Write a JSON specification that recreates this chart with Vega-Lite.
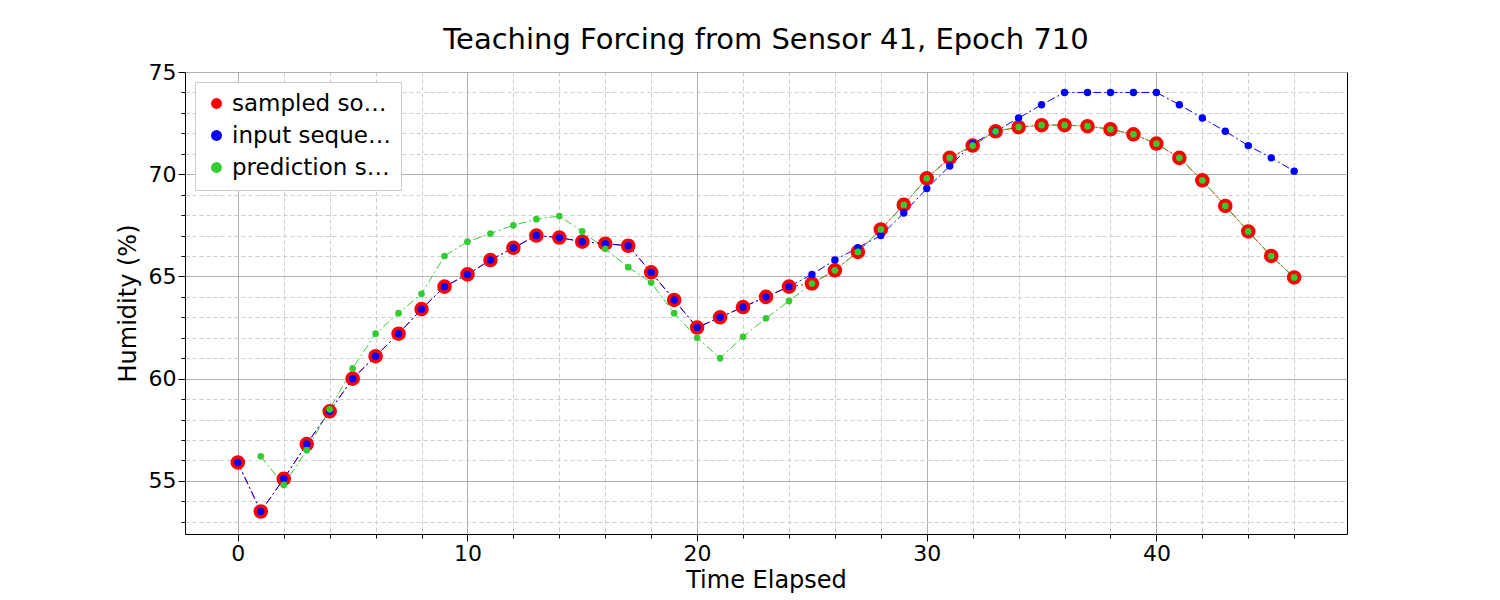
{
"$schema":"https://vega.github.io/schema/vega-lite/v6.json",
"width":1162,"height":462,
"padding":{"left":116,"top":26,"right":10,"bottom":5},
"title":{"text":"Teaching Forcing from Sensor 41, Epoch 710","fontSize":29,"font":"DejaVu Sans","fontWeight":"normal","offset":6},
"config":{"view":{"stroke":"black","strokeWidth":1},"font":"DejaVu Sans",
"axis":{"labelFont":"DejaVu Sans","titleFont":"DejaVu Sans","labelFontSize":22,"titleFontSize":24,"titleFontWeight":"normal","labelColor":"black","titleColor":"black","domain":false,"tickColor":"black"}},
"datasets":{"d":[
{"t":0,"s":"sampled source","v":55.9},{"t":1,"s":"sampled source","v":53.5},{"t":2,"s":"sampled source","v":55.1},{"t":3,"s":"sampled source","v":56.8},{"t":4,"s":"sampled source","v":58.4},{"t":5,"s":"sampled source","v":60.0},{"t":6,"s":"sampled source","v":61.1},{"t":7,"s":"sampled source","v":62.2},{"t":8,"s":"sampled source","v":63.4},{"t":9,"s":"sampled source","v":64.5},{"t":10,"s":"sampled source","v":65.1},{"t":11,"s":"sampled source","v":65.8},{"t":12,"s":"sampled source","v":66.4},{"t":13,"s":"sampled source","v":67.0},{"t":14,"s":"sampled source","v":66.9},{"t":15,"s":"sampled source","v":66.7},{"t":16,"s":"sampled source","v":66.6},{"t":17,"s":"sampled source","v":66.5},{"t":18,"s":"sampled source","v":65.2},{"t":19,"s":"sampled source","v":63.85},{"t":20,"s":"sampled source","v":62.5},{"t":21,"s":"sampled source","v":63.0},{"t":22,"s":"sampled source","v":63.5},{"t":23,"s":"sampled source","v":64.0},{"t":24,"s":"sampled source","v":64.5},{"t":25,"s":"sampled source","v":64.65},{"t":26,"s":"sampled source","v":65.3},{"t":27,"s":"sampled source","v":66.2},{"t":28,"s":"sampled source","v":67.3},{"t":29,"s":"sampled source","v":68.5},{"t":30,"s":"sampled source","v":69.8},{"t":31,"s":"sampled source","v":70.8},{"t":32,"s":"sampled source","v":71.4},{"t":33,"s":"sampled source","v":72.1},{"t":34,"s":"sampled source","v":72.3},{"t":35,"s":"sampled source","v":72.4},{"t":36,"s":"sampled source","v":72.4},{"t":37,"s":"sampled source","v":72.35},{"t":38,"s":"sampled source","v":72.2},{"t":39,"s":"sampled source","v":71.95},{"t":40,"s":"sampled source","v":71.5},{"t":41,"s":"sampled source","v":70.8},{"t":42,"s":"sampled source","v":69.7},{"t":43,"s":"sampled source","v":68.45},{"t":44,"s":"sampled source","v":67.2},{"t":45,"s":"sampled source","v":66.0},{"t":46,"s":"sampled source","v":64.95},
{"t":0,"s":"input sequence","v":55.9},{"t":1,"s":"input sequence","v":53.5},{"t":2,"s":"input sequence","v":55.1},{"t":3,"s":"input sequence","v":56.8},{"t":4,"s":"input sequence","v":58.4},{"t":5,"s":"input sequence","v":60.0},{"t":6,"s":"input sequence","v":61.1},{"t":7,"s":"input sequence","v":62.2},{"t":8,"s":"input sequence","v":63.4},{"t":9,"s":"input sequence","v":64.5},{"t":10,"s":"input sequence","v":65.1},{"t":11,"s":"input sequence","v":65.8},{"t":12,"s":"input sequence","v":66.4},{"t":13,"s":"input sequence","v":67.0},{"t":14,"s":"input sequence","v":66.9},{"t":15,"s":"input sequence","v":66.7},{"t":16,"s":"input sequence","v":66.6},{"t":17,"s":"input sequence","v":66.5},{"t":18,"s":"input sequence","v":65.2},{"t":19,"s":"input sequence","v":63.85},{"t":20,"s":"input sequence","v":62.5},{"t":21,"s":"input sequence","v":63.0},{"t":22,"s":"input sequence","v":63.5},{"t":23,"s":"input sequence","v":64.0},{"t":24,"s":"input sequence","v":64.5},{"t":25,"s":"input sequence","v":65.1},{"t":26,"s":"input sequence","v":65.8},{"t":27,"s":"input sequence","v":66.4},{"t":28,"s":"input sequence","v":67.0},{"t":29,"s":"input sequence","v":68.1},{"t":30,"s":"input sequence","v":69.3},{"t":31,"s":"input sequence","v":70.4},{"t":32,"s":"input sequence","v":71.5},{"t":33,"s":"input sequence","v":72.1},{"t":34,"s":"input sequence","v":72.75},{"t":35,"s":"input sequence","v":73.4},{"t":36,"s":"input sequence","v":74.0},{"t":37,"s":"input sequence","v":74.0},{"t":38,"s":"input sequence","v":74.0},{"t":39,"s":"input sequence","v":74.0},{"t":40,"s":"input sequence","v":74.0},{"t":41,"s":"input sequence","v":73.4},{"t":42,"s":"input sequence","v":72.75},{"t":43,"s":"input sequence","v":72.1},{"t":44,"s":"input sequence","v":71.4},{"t":45,"s":"input sequence","v":70.8},{"t":46,"s":"input sequence","v":70.15},
{"t":1,"s":"prediction sequence","v":56.2},{"t":2,"s":"prediction sequence","v":54.8},{"t":3,"s":"prediction sequence","v":56.5},{"t":4,"s":"prediction sequence","v":58.5},{"t":5,"s":"prediction sequence","v":60.5},{"t":6,"s":"prediction sequence","v":62.2},{"t":7,"s":"prediction sequence","v":63.2},{"t":8,"s":"prediction sequence","v":64.15},{"t":9,"s":"prediction sequence","v":66.0},{"t":10,"s":"prediction sequence","v":66.7},{"t":11,"s":"prediction sequence","v":67.1},{"t":12,"s":"prediction sequence","v":67.5},{"t":13,"s":"prediction sequence","v":67.8},{"t":14,"s":"prediction sequence","v":67.95},{"t":15,"s":"prediction sequence","v":67.2},{"t":16,"s":"prediction sequence","v":66.35},{"t":17,"s":"prediction sequence","v":65.45},{"t":18,"s":"prediction sequence","v":64.7},{"t":19,"s":"prediction sequence","v":63.2},{"t":20,"s":"prediction sequence","v":62.0},{"t":21,"s":"prediction sequence","v":61.0},{"t":22,"s":"prediction sequence","v":62.05},{"t":23,"s":"prediction sequence","v":62.95},{"t":24,"s":"prediction sequence","v":63.8},{"t":25,"s":"prediction sequence","v":64.65},{"t":26,"s":"prediction sequence","v":65.3},{"t":27,"s":"prediction sequence","v":66.2},{"t":28,"s":"prediction sequence","v":67.3},{"t":29,"s":"prediction sequence","v":68.5},{"t":30,"s":"prediction sequence","v":69.8},{"t":31,"s":"prediction sequence","v":70.8},{"t":32,"s":"prediction sequence","v":71.4},{"t":33,"s":"prediction sequence","v":72.1},{"t":34,"s":"prediction sequence","v":72.3},{"t":35,"s":"prediction sequence","v":72.4},{"t":36,"s":"prediction sequence","v":72.4},{"t":37,"s":"prediction sequence","v":72.35},{"t":38,"s":"prediction sequence","v":72.2},{"t":39,"s":"prediction sequence","v":71.95},{"t":40,"s":"prediction sequence","v":71.5},{"t":41,"s":"prediction sequence","v":70.8},{"t":42,"s":"prediction sequence","v":69.7},{"t":43,"s":"prediction sequence","v":68.45},{"t":44,"s":"prediction sequence","v":67.2},{"t":45,"s":"prediction sequence","v":66.0},{"t":46,"s":"prediction sequence","v":64.95}
]},
"data":{"name":"d"},
"layer":[
{"mark":{"type":"rule","opacity":0},"encoding":{
 "x":{"field":"t","type":"quantitative","scale":{"domain":[-2.3,48.3],"nice":false,"zero":false},"axis":{"orient":"bottom","values":[0,2,4,6,8,12,14,16,18,22,24,26,28,32,34,36,38,42,44,46],"labels":false,"title":null,"tickSize":4,"gridDash":[4,3],"gridColor":"#cccccc","grid":true}},
 "y":{"field":"v","type":"quantitative","scale":{"domain":[52.4,75],"nice":false,"zero":false},"axis":{"orient":"left","values":[53,54,56,57,58,59,61,62,63,64,66,67,68,69,71,72,73,74],"labels":false,"title":null,"tickSize":4,"gridDash":[4,3],"gridColor":"#cccccc","grid":true}}}},
{"layer":[
{"mark":{"type":"line","strokeDash":[8,3,2,3],"strokeWidth":1},"encoding":{
 "x":{"field":"t","type":"quantitative","axis":{"orient":"bottom","values":[0,10,20,30,40],"title":"Time Elapsed","tickSize":7,"grid":true,"gridColor":"#b0b0b0","titlePadding":4}},
 "y":{"field":"v","type":"quantitative","axis":{"orient":"left","values":[55,60,65,70,75],"title":"Humidity (%)","tickSize":7,"grid":true,"gridColor":"#b0b0b0","titlePadding":8}},
 "color":{"field":"s","type":"nominal","scale":{"domain":["sampled source","input sequence","prediction sequence"],"range":["red","blue","#33cc33"]},"legend":{"orient":"top-left","title":null,"labelFontSize":23,"symbolType":"circle","symbolSize":120,"symbolStrokeWidth":0,"fillColor":"white","strokeColor":"#cccccc","padding":10,"rowPadding":8,"offset":10}},
 "order":{"field":"t"},"detail":{"field":"s"}}},
{"mark":{"type":"point","filled":true,"opacity":1,"stroke":"red","strokeWidth":1.5},"transform":[{"filter":"datum.s==='sampled source'"}],"encoding":{
 "x":{"field":"t","type":"quantitative"},"y":{"field":"v","type":"quantitative"},
 "color":{"field":"s","type":"nominal"},
 "size":{"value":170}}},
{"mark":{"type":"point","filled":true,"opacity":1},"transform":[{"filter":"datum.s==='input sequence'"}],"encoding":{
 "x":{"field":"t","type":"quantitative"},"y":{"field":"v","type":"quantitative"},"color":{"field":"s","type":"nominal"},"size":{"value":55}}},
{"mark":{"type":"point","filled":true,"opacity":1},"transform":[{"filter":"datum.s==='prediction sequence'"}],"encoding":{
 "x":{"field":"t","type":"quantitative"},"y":{"field":"v","type":"quantitative"},"color":{"field":"s","type":"nominal"},"size":{"value":45}}}
]}
],
"resolve":{"axis":{"x":"independent","y":"independent"}}
}
